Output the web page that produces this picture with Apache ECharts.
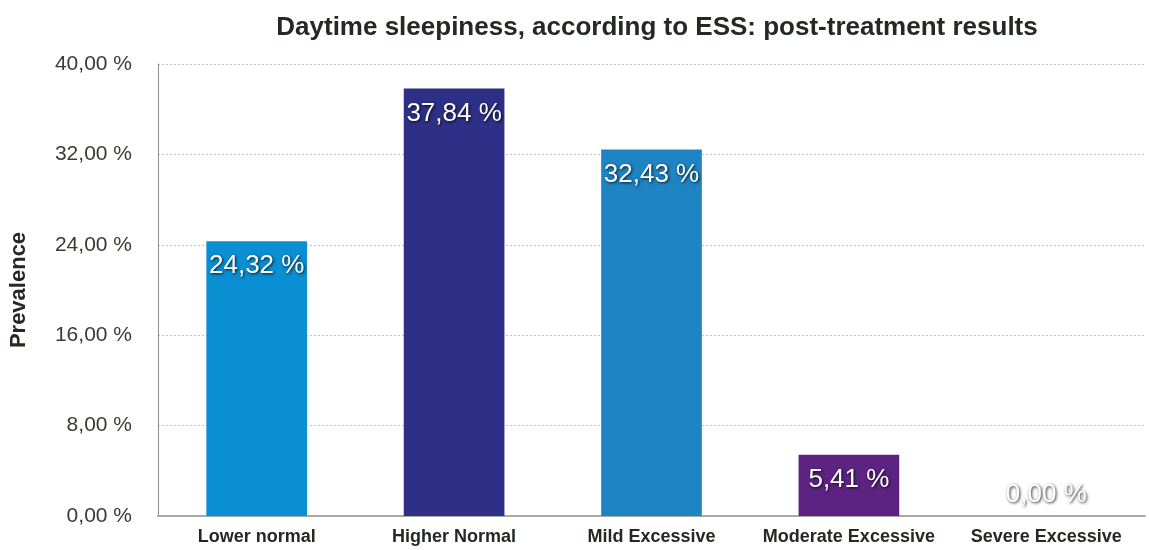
<!DOCTYPE html>
<html>
<head>
<meta charset="utf-8">
<script src="https://cdn.jsdelivr.net/npm/echarts@6/dist/echarts.min.js"></script>
<style>
  html, body { margin: 0; padding: 0; background: #fff; }
  #chart { width: 1149px; height: 550px; }
</style>
</head>
<body>
<div id="chart"></div>
<script>
const categories = ['Lower normal', 'Higher Normal', 'Mild Excessive', 'Moderate Excessive', 'Severe Excessive']
const values = [24.32, 37.84, 32.43, 5.41, 0]
const barColors = ['#0a8fd2', '#2e3087', '#1e84c4', '#5d2383', '#999999']
const yTicks = [0, 8, 16, 24, 32, 40]

const fmt = v => v.toFixed(2).replace('.', ',') + ' %'

let chart = echarts.init(document.getElementById('chart'))
const option = {
  backgroundColor: '#fff',
  title: {
    text: 'Daytime sleepiness, according to ESS: post-treatment results',
    left: 652,
    textAlign: 'center',
    top: 10,
    textStyle: {
      fontFamily: 'Liberation Sans',
      fontWeight: 'bold',
      fontSize: 26,
      color: '#222a22'
    }
  },
  grid: {
    left: 158,
    right: 4,
    top: 64,
    bottom: 34
  },
  xAxis: {
    type: 'category',
    data: categories,
    axisLine: { lineStyle: { color: '#a8aaa4', width: 2 } },
    axisTick: { show: false },
    axisLabel: {
      interval: 0,
      fontFamily: 'Liberation Sans',
      fontWeight: 'bold',
      fontSize: 18,
      color: '#222a22',
      margin: 12
    }
  },
  yAxis: {
    type: 'value',
    min: 0,
    max: yTicks[yTicks.length - 1],
    interval: 8,
    name: 'Prevalence',
    nameLocation: 'middle',
    nameGap: 128,
    nameTextStyle: {
      fontFamily: 'Liberation Sans',
      fontWeight: 'bold',
      fontSize: 22,
      color: '#222a22'
    },
    axisLine: { show: true, lineStyle: { color: '#8c8e88', width: 1 } },
    axisTick: { show: false },
    axisLabel: {
      fontFamily: 'Liberation Sans',
      fontSize: 21,
      color: '#3a3a36',
      margin: 26,
      formatter: fmt
    },
    splitLine: { lineStyle: { color: '#c4c4c0', type: [2, 2], width: 1 } }
  },
  series: [{
    type: 'bar',
    barWidth: '51%',
    data: values.map((v, i) => ({
      value: v,
      itemStyle: { color: barColors[i] },
      label: v === 0 ? { position: 'top', distance: 8 } : {}
    })),
    label: {
      show: true,
      position: 'insideTop',
      distance: 12,
      formatter: p => fmt(p.value),
      fontFamily: 'Liberation Sans',
      fontSize: 26,
      color: '#fff',
      textShadowColor: 'rgba(0,0,0,0.85)',
      textShadowBlur: 3,
      textShadowOffsetX: 1,
      textShadowOffsetY: 1
    }
  }]
}
chart.setOption(option)
</script>
</body>
</html>
